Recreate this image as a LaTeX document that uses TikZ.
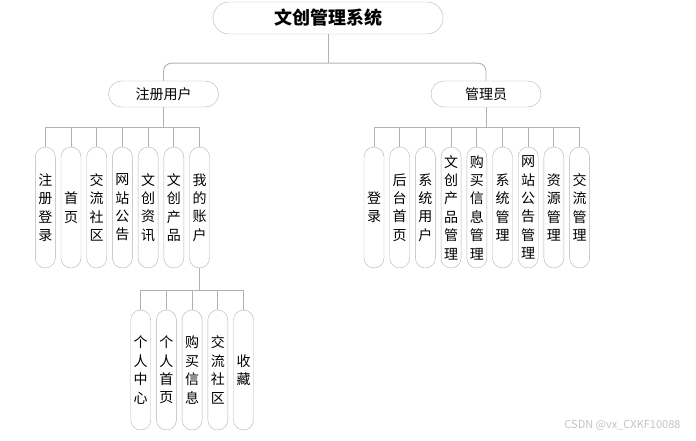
\documentclass[tikz,border=0pt]{standalone}
\usepackage{fontspec}
\setmainfont{Noto Sans CJK SC}
\usepackage{xcolor}
\usepackage{tikz}
\usetikzlibrary{positioning}
\definecolor{wcgray}{RGB}{178,178,178}
\definecolor{wcmark}{RGB}{195,195,195}
\tikzset{
  wcroot/.style={draw=wcgray, rounded corners=16pt, minimum width=230pt,
    minimum height=32pt, inner sep=0pt, font=\fontsize{18}{22}\selectfont\bfseries},
  wcmid/.style={draw=wcgray, rounded corners=13pt, minimum width=110pt,
    minimum height=26pt, inner sep=0pt, font=\fontsize{14}{17}\selectfont},
  wcleaf/.style={draw=wcgray, rounded corners=10pt, minimum width=20pt,
    minimum height=121pt, inner sep=0pt, align=center,
    font=\fontsize{14}{18.4}\selectfont},
  wcline/.style={draw=wcgray, line width=0.9pt}
}
\begin{document}
\begin{tikzpicture}[x=1pt, y=1pt, node distance=5.3pt]
\useasboundingbox (0,0) rectangle (696,-441);
\node[wcroot] (sys) at (328,-18) {文创管理系统};
\node[wcmid] (user) at (163.5,-94) {注册用户};
\node[wcmid] (admin) at (486,-94) {管理员};
% registered user side
\node[wcleaf] (u1) at (45.3,-207.5) {注\\册\\登\\录};
\node[wcleaf, right=of u1] (u2) {首\\页};
\node[wcleaf, right=of u2] (u3) {交\\流\\社\\区};
\node[wcleaf, right=of u3] (u4) {网\\站\\公\\告};
\node[wcleaf, right=of u4] (u5) {文\\创\\资\\讯};
\node[wcleaf, right=of u5] (u6) {文\\创\\产\\品};
\node[wcleaf, right=of u6] (u7) {我\\的\\账\\户};
% my account
\node[wcleaf, minimum height=120pt] (m1) at (140.7,-370) {个\\人\\中\\心};
\node[wcleaf, minimum height=120pt, right=of m1] (m2) {个\\人\\首\\页};
\node[wcleaf, minimum height=120pt, right=of m2] (m3) {购\\买\\信\\息};
\node[wcleaf, minimum height=120pt, right=of m3] (m4) {交\\流\\社\\区};
\node[wcleaf, minimum height=120pt, right=of m4] (m5) {收\\藏};
% admin side
\node[wcleaf] (a1) at (374,-207.5) {登\\录};
\node[wcleaf, right=of a1] (a2) {后\\台\\首\\页};
\node[wcleaf, right=of a2] (a3) {系\\统\\用\\户};
\node[wcleaf, right=of a3] (a4) {文\\创\\产\\品\\管\\理};
\node[wcleaf, right=of a4] (a5) {购\\买\\信\\息\\管\\理};
\node[wcleaf, right=of a5] (a6) {系\\统\\管\\理};
\node[wcleaf, right=of a6] (a7) {网\\站\\公\\告\\管\\理};
\node[wcleaf, right=of a7] (a8) {资\\源\\管\\理};
\node[wcleaf, right=of a8] (a9) {交\\流\\管\\理};
% connectors
\coordinate (rbar) at ([yshift=-29pt]sys.south);
\draw[wcline] (sys.south) -- (rbar);
\draw[wcline, rounded corners=8pt] (user.north) |- (rbar) -| (admin.north);
\coordinate (ubar) at ([yshift=-20pt]user.south);
\draw[wcline] (user.south) -- (ubar);
\foreach \k in {1,...,7} \draw[wcline] (ubar) -| (u\k.north);
\coordinate (abar) at ([yshift=-20pt]admin.south);
\draw[wcline] (admin.south) -- (abar);
\foreach \k in {1,...,9} \draw[wcline] (abar) -| (a\k.north);
\coordinate (mbar) at ([yshift=-22.5pt]u7.south);
\draw[wcline] (u7.south) -- (mbar);
\foreach \k in {1,...,5} \draw[wcline] (mbar) -| (m\k.north);
\node[text=wcmark, anchor=east, font=\fontsize{11}{13}\selectfont] (mark) at (684,-425) {CSDN @vx\_CXKF10088};
\end{tikzpicture}
\end{document}
